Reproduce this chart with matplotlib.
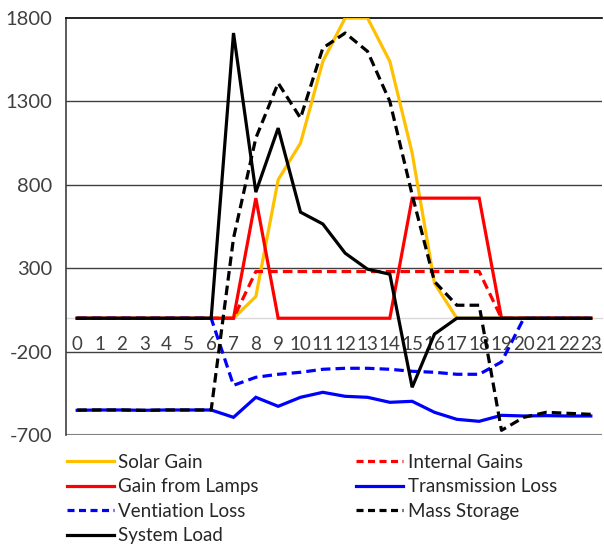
import matplotlib
matplotlib.use("Agg")
import matplotlib.pyplot as plt
from matplotlib.lines import Line2D

plt.rcParams['font.family'] = ['Lato', 'DejaVu Sans']

hours = list(range(24))
hour_labels = [str(h) for h in hours]

solar_gain = [0, 0, 0, 0, 0, 0, 0, 0, 130, 830, 1050, 1540, 1800, 1800, 1540, 990, 210, 0, 0, 0, 0, 0, 0, 0]
internal_gains = [0, 0, 0, 0, 0, 0, 0, 0, 280, 280, 280, 280, 280, 280, 280, 280, 280, 280, 280, 0, 0, 0, 0, 0]
gain_lamps = [0, 0, 0, 0, 0, 0, 0, 0, 720, 0, 0, 0, 0, 0, 0, 720, 720, 720, 720, 0, 0, 0, 0, 0]
transmission_loss = [-552, -550, -550, -552, -550, -550, -550, -594, -474, -528, -474, -444, -468, -474, -504, -498,
                     -564, -606, -618, -582, -586, -584, -586, -586]
ventilation_loss = [0, 0, 0, 0, 0, 0, 0, -402, -354, -336, -324, -306, -300, -300, -306, -318, -324, -336, -336,
                    -262, 0, 0, 0, 0]
mass_storage = [-550, -550, -550, -552, -550, -550, -550, 480, 1080, 1410, 1200, 1620, 1710, 1600, 1300, 740, 220,
                78, 78, -672, -594, -564, -570, -576]
system_load = [0, 0, 0, 0, 0, 0, 0, 1710, 756, 1140, 636, 565, 390, 294, 264, -414, -95, 0, 0, 0, 0, 0, 0, 0]

y_ticks = [-700, -200, 300, 800, 1300, 1800]

fig = plt.figure(figsize=(6.04, 5.47), dpi=100)
ax = fig.add_axes([66 / 604, 1 - 435 / 547, 536 / 604, (435 - 18) / 547])

lw = 2.3
dash = (3.0, 1.6)
YEL = '#FFC000'
RED = '#FF0000'
BLUE = '#0000FF'
BLK = '#000000'

series = [
    ('Solar Gain', solar_gain, YEL, '-'),
    ('Internal Gains', internal_gains, RED, '--'),
    ('Gain from Lamps', gain_lamps, RED, '-'),
    ('Transmission Loss', transmission_loss, BLUE, '-'),
    ('Ventiation Loss', ventilation_loss, BLUE, '--'),
    ('Mass Storage', mass_storage, BLK, '--'),
    ('System Load', system_load, BLK, '-'),
]
handles = {}
for i, (name, vals, col, ls) in enumerate(series):
    ln, = ax.plot(hours, vals, color=col, lw=lw, zorder=3 + i, solid_joinstyle='miter')
    if ls == '--':
        ln.set_dashes(dash)
    handles[name] = ln

ax.set_xlim(-0.5, 23.5)
ax.set_ylim(-700, 1800)
ax.set_yticks(y_ticks)
ax.set_yticklabels([str(v) for v in y_ticks], fontsize=14.5, color='#404040')
ax.tick_params(axis='y', length=0, pad=10)

for v in [-200, 300, 800, 1300]:
    ax.axhline(v, color='#404040', lw=1.0, zorder=1)
ax.axhline(-700, color='#808080', lw=1.5, zorder=1)

ax.spines['right'].set_visible(False)
ax.spines['top'].set_color('black')
ax.spines['top'].set_linewidth(1.2)
ax.spines['left'].set_color('#404040')
ax.spines['left'].set_linewidth(1.2)
ax.spines['bottom'].set_position(('data', 0))
ax.spines['bottom'].set_color('#d9d9d9')
ax.spines['bottom'].set_linewidth(1.0)
ax.spines['bottom'].set_zorder(2)

ax.set_xticks(hours)
ax.set_xticklabels(hour_labels, fontsize=13.5, color='#404040')
ax.tick_params(axis='x', length=0, pad=13)

order = ['Solar Gain', 'Gain from Lamps', 'Ventiation Loss', 'System Load',
         'Internal Gains', 'Transmission Loss', 'Mass Storage']
leg_handles = []
for name in order:
    h = handles[name]
    lh = Line2D([], [], color=h.get_color(), lw=lw)
    if name in ('Internal Gains', 'Ventiation Loss', 'Mass Storage'):
        lh.set_dashes((2.2, 1.4))
    leg_handles.append(lh)
fig.legend(leg_handles, order, ncol=2, loc='upper left', bbox_to_anchor=(50 / 604, 1 - 437 / 547),
           frameon=False, fontsize=13.5, handlelength=2.5, handletextpad=0.25, columnspacing=5.2,
           labelspacing=0.4, labelcolor='#262626')

fig.savefig('out.png', dpi=100)
